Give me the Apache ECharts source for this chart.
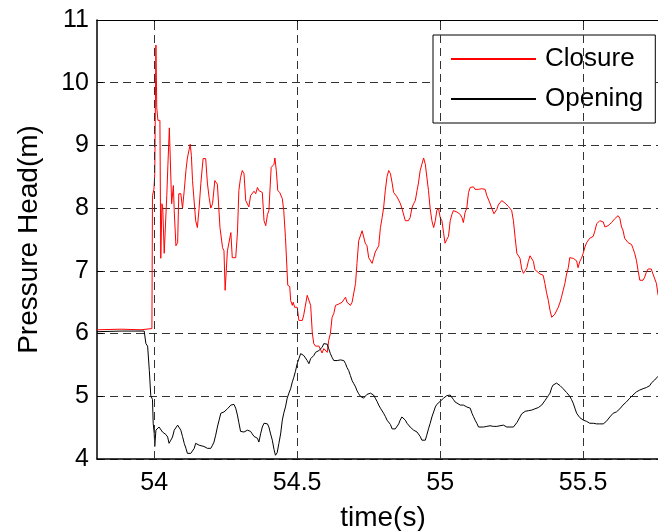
<!DOCTYPE html>
<html>
<head>
<meta charset="utf-8">
<script src="https://cdn.jsdelivr.net/npm/echarts@6/dist/echarts.min.js"></script>
<style>
html,body{margin:0;padding:0;background:#fff;}
#chart{width:658px;height:531px;}
</style>
</head>
<body>
<div id="chart"></div>
<script>
// ---- data ----
const seriesNames = ['Closure', 'Opening'];
const xTickValues = [54, 54.5, 55, 55.5];
const xRange = [53.8, 55.8];
const yRange = [4, 11];
const yStep = 1;

const closureData = [[53.800,6.06],[53.884,6.07],[53.954,6.06],[53.992,6.08],[53.994,8.20],[53.999,8.30],[54.002,8.55],[54.006,10.60],[54.009,9.60],[54.013,9.40],[54.020,9.40],[54.023,7.20],[54.027,8.07],[54.030,8.00],[54.035,7.28],[54.037,7.30],[54.044,8.20],[54.048,8.70],[54.053,9.28],[54.058,9.30],[54.061,8.07],[54.067,8.36],[54.070,7.96],[54.076,7.40],[54.082,7.45],[54.086,8.23],[54.093,8.23],[54.099,8.00],[54.105,8.28],[54.111,8.60],[54.116,8.80],[54.126,9.02],[54.130,8.84],[54.134,8.44],[54.140,8.42],[54.145,7.80],[54.151,7.69],[54.157,8.00],[54.163,8.39],[54.171,8.79],[54.180,8.79],[54.186,8.40],[54.192,8.17],[54.198,8.00],[54.204,8.07],[54.212,8.44],[54.221,8.38],[54.227,8.40],[54.230,7.69],[54.239,7.37],[54.244,7.32],[54.248,6.69],[54.254,6.69],[54.256,7.32],[54.262,7.30],[54.268,7.61],[54.273,7.21],[54.279,7.20],[54.285,7.21],[54.291,7.60],[54.296,8.28],[54.302,8.49],[54.308,8.60],[54.314,8.55],[54.320,8.12],[54.326,8.12],[54.331,8.02],[54.337,8.20],[54.343,8.23],[54.349,8.27],[54.355,8.23],[54.361,8.33],[54.366,8.28],[54.372,8.28],[54.378,8.25],[54.384,7.80],[54.390,7.72],[54.396,7.90],[54.401,7.96],[54.407,7.96],[54.409,8.65],[54.419,8.70],[54.422,8.80],[54.427,8.60],[54.432,8.28],[54.439,8.25],[54.448,8.15],[54.453,7.96],[54.459,7.53],[54.465,7.50],[54.467,6.77],[54.474,6.75],[54.477,6.53],[54.483,6.45],[54.486,6.50],[54.491,6.42],[54.494,6.45],[54.500,6.42],[54.506,6.21],[54.512,6.20],[54.518,6.21],[54.523,6.30],[54.529,6.32],[54.535,6.61],[54.541,6.60],[54.547,6.45],[54.553,6.00],[54.558,5.84],[54.564,5.80],[54.570,5.78],[54.576,5.80],[54.581,5.75],[54.587,5.69],[54.593,5.76],[54.599,5.78],[54.605,5.70],[54.610,5.89],[54.616,6.00],[54.622,6.26],[54.628,6.32],[54.634,6.45],[54.640,6.48],[54.645,6.47],[54.651,6.45],[54.657,6.50],[54.663,6.52],[54.669,6.58],[54.674,6.50],[54.680,6.48],[54.686,6.45],[54.692,6.50],[54.698,6.52],[54.704,6.80],[54.709,7.12],[54.715,7.48],[54.721,7.50],[54.727,7.64],[54.732,7.66],[54.738,7.44],[54.744,7.40],[54.750,7.21],[54.756,7.18],[54.762,7.12],[54.767,7.20],[54.773,7.30],[54.785,7.40],[54.791,7.69],[54.797,7.85],[54.802,8.00],[54.808,8.28],[54.814,8.50],[54.820,8.60],[54.826,8.55],[54.832,8.40],[54.837,8.25],[54.843,8.22],[54.849,8.18],[54.855,8.15],[54.860,8.08],[54.866,8.00],[54.872,7.98],[54.878,7.80],[54.884,7.77],[54.889,7.80],[54.895,7.85],[54.901,8.00],[54.907,8.07],[54.913,8.12],[54.919,8.28],[54.924,8.40],[54.930,8.60],[54.936,8.70],[54.942,8.80],[54.948,8.70],[54.953,8.68],[54.959,8.28],[54.965,7.99],[54.971,7.80],[54.977,7.69],[54.983,7.80],[54.988,7.96],[54.994,8.00],[55.000,7.85],[55.006,7.80],[55.012,7.60],[55.017,7.44],[55.023,7.50],[55.029,7.55],[55.035,7.80],[55.041,7.90],[55.046,7.96],[55.052,7.93],[55.058,7.94],[55.064,7.93],[55.070,7.90],[55.076,7.85],[55.081,7.77],[55.087,7.93],[55.093,8.00],[55.099,8.25],[55.105,8.33],[55.111,8.36],[55.116,8.34],[55.122,8.30],[55.128,8.32],[55.134,8.30],[55.140,8.30],[55.145,8.31],[55.151,8.30],[55.157,8.30],[55.163,8.20],[55.174,8.08],[55.180,8.00],[55.188,7.91],[55.198,7.98],[55.203,8.05],[55.215,8.12],[55.221,8.12],[55.227,8.08],[55.238,8.03],[55.250,7.96],[55.256,7.80],[55.262,7.53],[55.268,7.28],[55.273,7.28],[55.279,7.20],[55.285,7.03],[55.291,6.96],[55.297,7.00],[55.303,7.05],[55.308,7.15],[55.314,7.24],[55.320,7.25],[55.326,7.15],[55.331,7.02],[55.337,7.00],[55.349,6.95],[55.360,6.93],[55.366,6.80],[55.372,6.65],[55.378,6.53],[55.384,6.37],[55.390,6.26],[55.395,6.29],[55.401,6.31],[55.407,6.33],[55.413,6.42],[55.419,6.50],[55.424,6.58],[55.430,6.69],[55.436,6.80],[55.442,6.95],[55.448,7.05],[55.453,7.21],[55.459,7.21],[55.465,7.20],[55.471,7.18],[55.477,7.16],[55.482,7.05],[55.488,7.15],[55.494,7.20],[55.500,7.28],[55.506,7.38],[55.512,7.45],[55.523,7.52],[55.529,7.55],[55.535,7.55],[55.541,7.64],[55.547,7.75],[55.552,7.78],[55.558,7.80],[55.564,7.80],[55.570,7.78],[55.576,7.70],[55.581,7.67],[55.587,7.72],[55.593,7.72],[55.599,7.77],[55.605,7.80],[55.610,7.83],[55.616,7.86],[55.622,7.88],[55.628,7.84],[55.634,7.70],[55.639,7.65],[55.645,7.52],[55.651,7.50],[55.657,7.45],[55.669,7.42],[55.674,7.36],[55.680,7.28],[55.686,7.17],[55.692,7.00],[55.698,6.85],[55.704,6.83],[55.709,6.85],[55.715,6.90],[55.721,6.98],[55.727,7.03],[55.733,7.05],[55.738,7.03],[55.744,6.95],[55.750,6.92],[55.756,6.80],[55.762,6.61]];

const openingData = [[53.800,6.03],[53.884,6.04],[53.965,6.04],[53.971,5.84],[53.977,5.80],[53.983,5.41],[53.988,5.01],[53.994,4.95],[53.9965,4.57],[54.000,4.41],[54.002,4.20],[54.006,4.46],[54.012,4.43],[54.017,4.51],[54.023,4.50],[54.029,4.43],[54.035,4.46],[54.041,4.39],[54.047,4.35],[54.052,4.25],[54.058,4.30],[54.064,4.35],[54.070,4.46],[54.076,4.48],[54.082,4.54],[54.087,4.51],[54.093,4.46],[54.099,4.36],[54.105,4.25],[54.111,4.17],[54.116,4.09],[54.122,4.06],[54.128,4.09],[54.134,4.12],[54.140,4.17],[54.145,4.25],[54.151,4.25],[54.157,4.22],[54.163,4.25],[54.174,4.20],[54.186,4.17],[54.192,4.20],[54.198,4.17],[54.204,4.22],[54.209,4.27],[54.215,4.38],[54.221,4.51],[54.227,4.62],[54.233,4.73],[54.239,4.74],[54.244,4.75],[54.250,4.78],[54.256,4.80],[54.262,4.83],[54.268,4.86],[54.273,4.86],[54.279,4.87],[54.285,4.81],[54.291,4.70],[54.296,4.58],[54.302,4.44],[54.314,4.43],[54.326,4.46],[54.331,4.45],[54.337,4.44],[54.343,4.40],[54.349,4.36],[54.361,4.33],[54.366,4.27],[54.372,4.40],[54.378,4.51],[54.384,4.57],[54.396,4.56],[54.401,4.51],[54.407,4.40],[54.413,4.30],[54.419,4.15],[54.424,4.06],[54.430,4.10],[54.436,4.25],[54.442,4.40],[54.448,4.62],[54.453,4.73],[54.459,4.83],[54.465,4.97],[54.471,5.05],[54.477,5.12],[54.483,5.23],[54.488,5.30],[54.494,5.40],[54.500,5.52],[54.506,5.60],[54.512,5.68],[54.518,5.69],[54.523,5.65],[54.529,5.62],[54.535,5.57],[54.541,5.52],[54.547,5.60],[54.553,5.62],[54.558,5.65],[54.564,5.70],[54.570,5.71],[54.576,5.73],[54.581,5.76],[54.587,5.78],[54.593,5.84],[54.599,5.85],[54.605,5.83],[54.610,5.76],[54.616,5.68],[54.622,5.62],[54.628,5.57],[54.640,5.57],[54.651,5.58],[54.657,5.59],[54.663,5.57],[54.669,5.52],[54.674,5.46],[54.680,5.41],[54.686,5.33],[54.692,5.25],[54.698,5.20],[54.704,5.15],[54.709,5.09],[54.715,5.04],[54.721,5.00],[54.727,4.97],[54.732,4.97],[54.738,5.00],[54.744,5.03],[54.750,5.04],[54.756,5.05],[54.762,5.03],[54.767,5.02],[54.773,4.97],[54.779,4.92],[54.785,4.86],[54.791,4.81],[54.797,4.78],[54.802,4.73],[54.808,4.68],[54.814,4.62],[54.820,4.59],[54.826,4.55],[54.832,4.48],[54.837,4.46],[54.843,4.48],[54.849,4.51],[54.855,4.56],[54.860,4.62],[54.866,4.67],[54.872,4.66],[54.878,4.62],[54.884,4.57],[54.895,4.51],[54.901,4.49],[54.907,4.46],[54.919,4.43],[54.924,4.41],[54.930,4.36],[54.936,4.30],[54.942,4.30],[54.948,4.30],[54.953,4.38],[54.959,4.48],[54.965,4.57],[54.971,4.67],[54.977,4.75],[54.983,4.83],[54.988,4.87],[54.994,4.90],[55.000,4.92],[55.012,4.97],[55.023,5.01],[55.029,5.03],[55.035,5.02],[55.041,4.99],[55.046,4.95],[55.052,4.91],[55.058,4.88],[55.070,4.86],[55.081,4.86],[55.093,4.83],[55.105,4.81],[55.111,4.73],[55.116,4.68],[55.122,4.62],[55.128,4.57],[55.134,4.51],[55.140,4.50],[55.151,4.51],[55.163,4.52],[55.174,4.53],[55.186,4.52],[55.198,4.52],[55.209,4.53],[55.221,4.54],[55.233,4.51],[55.244,4.51],[55.256,4.51],[55.262,4.54],[55.268,4.58],[55.273,4.62],[55.279,4.67],[55.285,4.72],[55.291,4.73],[55.297,4.76],[55.303,4.78],[55.308,4.77],[55.314,4.76],[55.320,4.78],[55.326,4.79],[55.331,4.80],[55.337,4.82],[55.343,4.82],[55.349,4.84],[55.355,4.86],[55.360,4.89],[55.366,4.93],[55.372,4.97],[55.378,5.01],[55.384,5.05],[55.390,5.14],[55.395,5.18],[55.401,5.20],[55.407,5.21],[55.413,5.20],[55.419,5.17],[55.424,5.15],[55.430,5.12],[55.436,5.09],[55.442,5.06],[55.448,5.04],[55.453,5.00],[55.459,4.95],[55.465,4.89],[55.471,4.81],[55.477,4.73],[55.482,4.70],[55.488,4.66],[55.500,4.62],[55.512,4.60],[55.523,4.57],[55.535,4.57],[55.547,4.56],[55.558,4.56],[55.570,4.56],[55.576,4.57],[55.581,4.60],[55.587,4.63],[55.593,4.67],[55.599,4.70],[55.605,4.73],[55.610,4.74],[55.616,4.75],[55.628,4.80],[55.639,4.86],[55.651,4.91],[55.663,4.97],[55.674,5.02],[55.686,5.07],[55.698,5.10],[55.709,5.12],[55.721,5.14],[55.733,5.17],[55.738,5.21],[55.744,5.24],[55.750,5.26],[55.756,5.29],[55.762,5.32]];

// ---- chart ----
const FONT = 'Liberation Sans, Arial, Helvetica, sans-serif';
const gridDash = {type: [8, 5], color: '#333', width: 1};
const chart = echarts.init(document.getElementById('chart'), null, {renderer: 'canvas'});

chart.setOption({
  animation: false,
  backgroundColor: '#fff',
  textStyle: {fontFamily: FONT, color: '#000'},
  grid: {left: 97, top: 20, bottom: 72, right: -11, containLabel: false, outerBoundsMode: 'none'},
  legend: {
    data: seriesNames,
    orient: 'vertical',
    left: 433, top: 35,
    padding: [11, 12, 11, 17],
    itemGap: 14,
    itemWidth: 85, itemHeight: 14,
    itemStyle: {opacity: 0},
    backgroundColor: '#fff',
    borderColor: '#000', borderWidth: 1,
    textStyle: {fontFamily: FONT, fontSize: 26, color: '#000', padding: [0, 0, 0, 4]}
  },
  xAxis: [{
    type: 'value', min: xRange[0], max: xRange[1],
    name: 'time(s)', nameLocation: 'middle', nameGap: 45,
    nameTextStyle: {fontFamily: FONT, fontSize: 28, color: '#000'},
    axisLine: {show: true, onZero: false, lineStyle: {color: '#000', width: 1.5}},
    axisTick: {show: true, inside: true, length: 6, customValues: xTickValues, lineStyle: {color: '#000'}},
    axisLabel: {show: true, customValues: xTickValues, fontFamily: FONT, fontSize: 25, color: '#000', margin: 12},
    splitLine: {show: false}
  }, {
    type: 'value', min: xRange[0], max: xRange[1], position: 'top',
    axisLine: {show: true, onZero: false, lineStyle: {color: '#000', width: 1}},
    axisTick: {show: true, inside: true, length: 6, customValues: xTickValues, lineStyle: {color: '#000'}},
    axisLabel: {show: false},
    splitLine: {show: false}
  }],
  yAxis: {
    type: 'value', min: yRange[0], max: yRange[1], interval: yStep,
    name: 'Pressure Head(m)', nameLocation: 'middle', nameGap: 54,
    nameTextStyle: {fontFamily: FONT, fontSize: 28, color: '#000'},
    axisLine: {show: true, onZero: false, lineStyle: {color: '#000', width: 1.5}},
    axisTick: {show: true, inside: true, length: 6, lineStyle: {color: '#000'}},
    axisLabel: {fontFamily: FONT, fontSize: 25, color: '#000', margin: 8},
    splitLine: {show: true, lineStyle: gridDash}
  },
  series: [{
    name: '_grid', type: 'line', data: [], z: 1, silent: true,
    markLine: {
      silent: true, symbol: ['none', 'none'], label: {show: false},
      lineStyle: gridDash, animation: false,
      data: xTickValues.map(v => ({xAxis: v}))
    }
  }, {
    name: seriesNames[0], type: 'line', data: closureData, z: 3,
    symbol: 'none', showSymbol: false, color: '#ff0000',
    lineStyle: {color: '#ff0000', width: 1}
  }, {
    name: seriesNames[1], type: 'line', data: openingData, z: 4,
    symbol: 'none', showSymbol: false, color: '#000000',
    lineStyle: {color: '#000000', width: 1}
  }]
});
</script>
</body>
</html>
